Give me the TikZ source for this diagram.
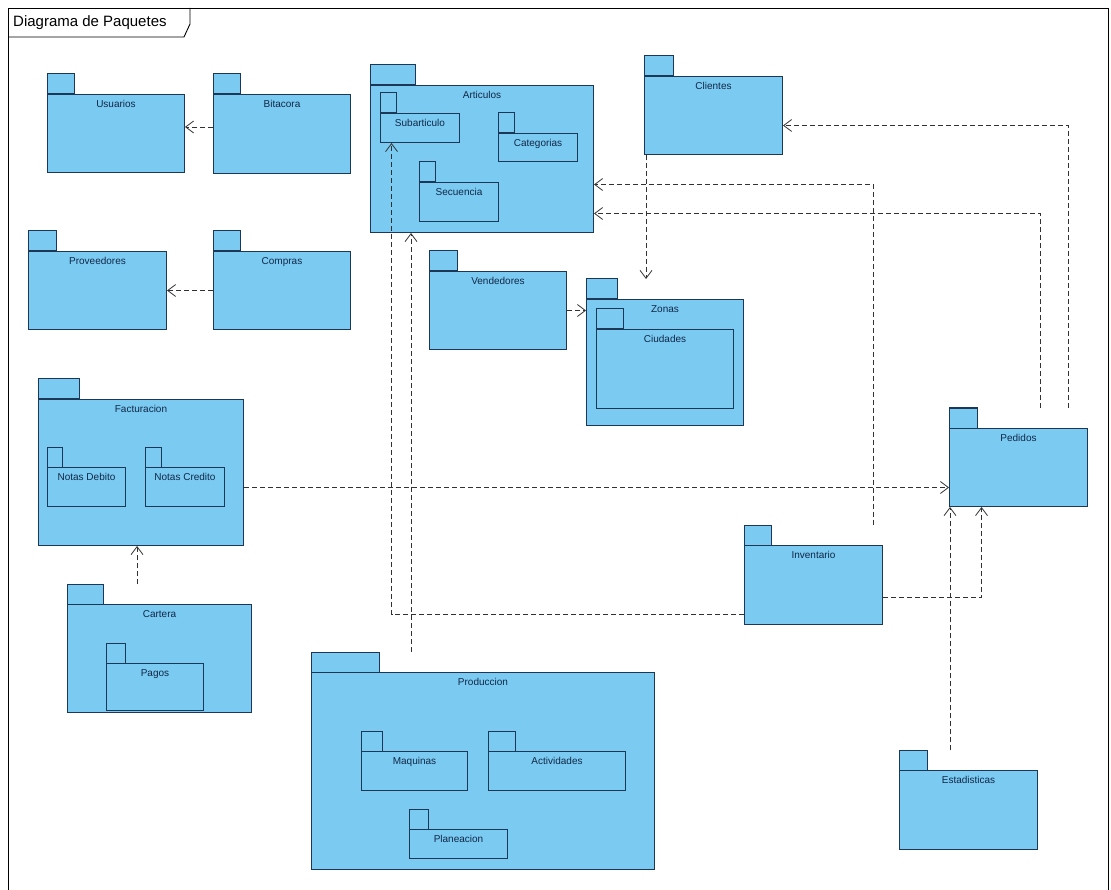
\documentclass[tikz,border=0pt]{standalone}
\usepackage{fontspec}
\setmainfont{Liberation Sans}
\usetikzlibrary{arrows.meta,calc}
\definecolor{pkgfill}{RGB}{122,202,242}
\definecolor{pkgedge}{RGB}{28,56,86}
\definecolor{pkgtext}{RGB}{18,40,70}
\definecolor{depline}{RGB}{50,50,50}

% name, x1, top, x2, bottom, tab width, label
\newcommand{\pkg}[7]{%
  \coordinate (#1-top) at (#2,#3);
  \draw[pkgtab] (#2,#3) rectangle ({#2+#6},{#3+20});
  \node[pkgbox,minimum width={(#4-#2)*1pt},minimum height={(#5-#3-20)*1pt},
        label={[lbl]north:#7}] (#1) at (#2,{#3+20}) {};
}

\begin{document}
\begin{tikzpicture}[x=1pt,y=-1pt,
  font=\fontsize{10}{12}\selectfont,
  frame/.style={draw=black,line width=0.9pt},
  pkgtab/.style={draw=pkgedge,fill=pkgfill,line width=1pt},
  pkgbox/.style={draw=pkgedge,fill=pkgfill,line width=1pt,anchor=north west,inner sep=0pt},
  lbl/.style={anchor=north,inner sep=0pt,yshift=-6pt,text=pkgtext},
  dep/.style={draw=depline,line width=0.8pt,dash pattern=on 5pt off 3pt,
              -{Straight Barb[length=8pt,width=12pt]}}]

\useasboundingbox (0,0) rectangle (1111,890);
\fill[white] (0,0) rectangle (1111,890);
\draw[frame] (8,8) rectangle (1108,900);
\node[anchor=west,inner sep=0pt,font=\fontsize{15}{18}\selectfont] (title) at (13,23) {Diagrama de Paquetes};
\draw[frame] (8,37) -- (184,37) -- (190,24) -- (190,8);

\pkg{usu}{47}{74}{184}{172}{27}{Usuarios}
\pkg{bit}{213}{74}{350}{173}{27}{Bitacora}
\pkg{art}{370}{65}{593}{232}{45}{Articulos}
\pkg{sub}{380}{93}{459}{142}{16}{Subarticulo}
\pkg{cat}{498}{113}{577}{161}{16}{Categorias}
\pkg{sec}{419}{162}{498}{221}{16}{Secuencia}
\pkg{cli}{644}{56}{782}{154}{29}{Clientes}
\pkg{prv}{28}{231}{166}{329}{28}{Proveedores}
\pkg{com}{213}{231}{350}{329}{27}{Compras}
\pkg{ven}{429}{251}{566}{349}{28}{Vendedores}
\pkg{zon}{586}{279}{743}{425}{31}{Zonas}
\pkg{ciu}{596}{309}{733}{408}{27}{Ciudades}
\pkg{fac}{38}{379}{243}{545}{41}{Facturacion}
\pkg{ndb}{47}{447}{125}{506}{15}{Notas Debito}
\pkg{ncr}{145}{447}{224}{506}{16}{Notas Credito}
\pkg{car}{67}{584}{251}{712}{36}{Cartera}
\pkg{pag}{106}{643}{203}{710}{19}{Pagos}
\pkg{ped}{949}{408}{1087}{506}{28}{Pedidos}
\pkg{inv}{744}{525}{882}{624}{27}{Inventario}
\pkg{pro}{311}{652}{654}{869}{68}{Produccion}
\pkg{maq}{361}{731}{467}{790}{21}{Maquinas}
\pkg{act}{488}{731}{625}{790}{27}{Actividades}
\pkg{pla}{409}{809}{507}{858}{19}{Planeacion}
\pkg{est}{899}{750}{1037}{849}{28}{Estadisticas}

\draw[dep] ([yshift=7pt]bit.west) -- ([yshift=7pt]bit.west -| usu.east);
\draw[dep] (com.west) -- (com.west -| prv.east);
\draw[dep] (ven.east) -- (ven.east -| zon.west);
\draw[dep] ([xshift=2pt]cli.south west) -- ([xshift=2pt]cli.south west |- zon-top);
\draw[dep] ([xshift=119pt]ped-top) |- ([yshift=-10pt]cli.east);
\draw[dep] ([xshift=91pt]ped-top) |- ([yshift=-54.5pt]art.east);
\draw[dep] ([xshift=129pt]inv-top) |- ([yshift=-25.5pt]art.east);
\draw[dep] ([yshift=-15pt]fac.east) -- ([yshift=-15pt]fac.east -| ped.west);
\draw[dep] ([xshift=70pt]car-top) -- ([xshift=70pt]car-top |- fac.south);
\draw[dep] ([xshift=100pt]pro-top) -- ([xshift=100pt]pro-top |- art.south);
\draw[dep] ([yshift=-29.5pt]inv.west) -| ([xshift=-28.5pt]sub.south);
\draw[dep] ([yshift=-12.5pt]inv.east) -| ([xshift=-37pt]ped.south);
\draw[dep] ([xshift=51pt]est-top) -- ([xshift=51pt]est-top |- ped.south);
\end{tikzpicture}
\end{document}
